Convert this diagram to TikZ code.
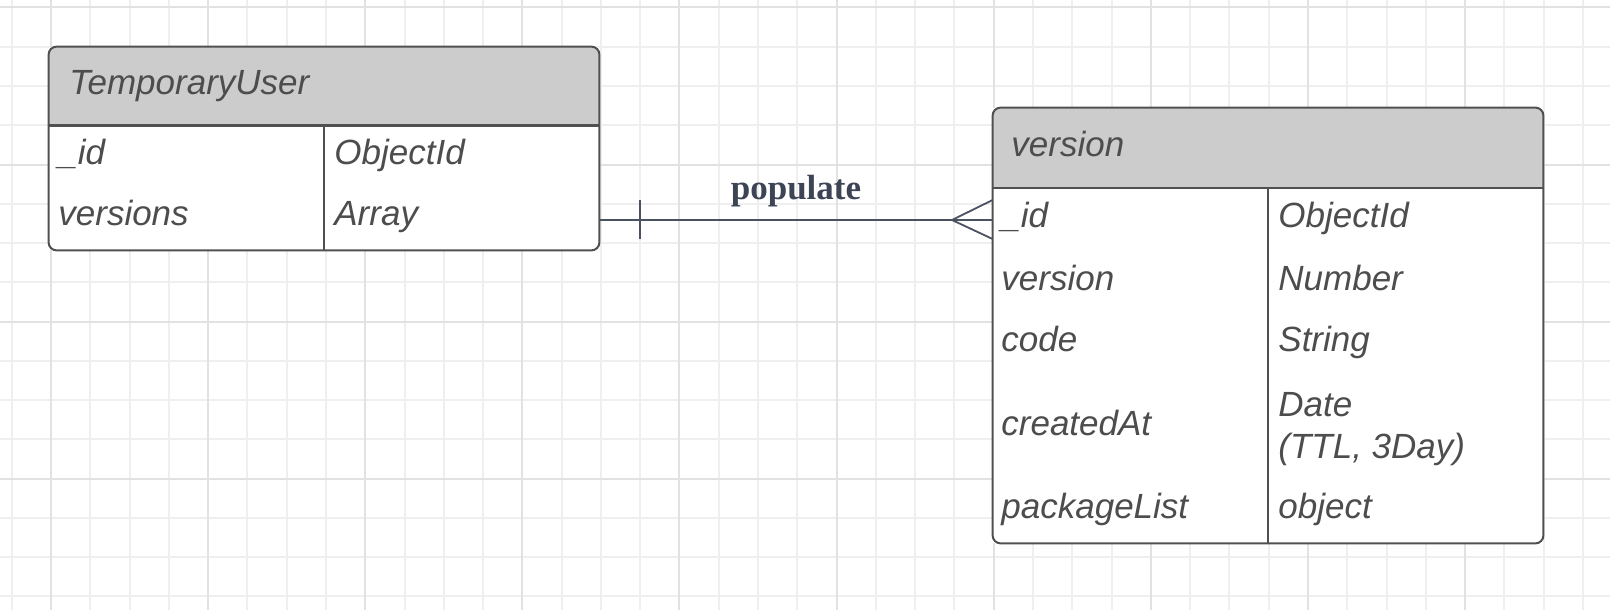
\documentclass[tikz,border=0pt]{standalone}
\usepackage{fontspec}
\setmainfont{Liberation Sans}
\newfontfamily\labelfont{Liberation Serif}
\definecolor{gridmin}{HTML}{EFEFEF}
\definecolor{gridmaj}{HTML}{E2E2E2}
\definecolor{border}{HTML}{505050}
\definecolor{hdr}{HTML}{CCCCCC}
\definecolor{txt}{HTML}{4D4D4D}
\definecolor{conn}{HTML}{4A5161}
\definecolor{lbl}{HTML}{3D4455}
\begin{document}
\begin{tikzpicture}[x=0.5pt,y=-0.5pt,
  gminor/.style={draw=gridmin, line width=1pt},
  gmajor/.style={draw=gridmaj, line width=1pt},
  tblbox/.style={fill=white, draw=none, rectangle, inner sep=0pt},
  tblline/.style={draw=border, line width=1pt},
  hdrfill/.style={fill=hdr},
  cell/.style={anchor=base west, inner sep=0pt, text=txt,
    font=\fontsize{17.5}{21}\selectfont\itshape, align=left},
  connline/.style={draw=conn, line width=0.9pt},
  rellabel/.style={anchor=base, inner sep=0pt, text=lbl,
    font=\labelfont\fontsize{17.5}{21}\selectfont\bfseries}
]
\useasboundingbox (0,0) rectangle (1610,610);
\fill[white] (0,0) rectangle (1610,610);
% grid
\foreach \k in {-1,...,39} {
  \draw[gminor] ({51+\k*39.28},0) -- ({51+\k*39.28},610);
}
\foreach \k in {0,...,15} {
  \draw[gminor] (0,{7.5+\k*39.25}) -- (1610,{7.5+\k*39.25});
}
\foreach \k in {0,...,9} {
  \draw[gmajor] ({51+\k*157.12},0) -- ({51+\k*157.12},610);
}
\foreach \k in {0,...,3} {
  \draw[gmajor] (0,{7.5+\k*157}) -- (1610,{7.5+\k*157});
}

% ---- TemporaryUser table
\node[tblbox, minimum width=275pt, minimum height=101.5pt] (tu) at (324,148.5) {};
\begin{scope}
  \clip[rounded corners=4pt] (tu.north west) rectangle (tu.south east);
  \fill[hdrfill] (tu.north west) rectangle (tu.east |- 0,125.5);
\end{scope}
\draw[tblline, rounded corners=4pt] (tu.north west) rectangle (tu.south east);
\draw[tblline] (tu.west |- 0,125.5) -- (tu.east |- 0,125.5);
\draw[tblline] (324,125.5) -- (tu.south);
\node[cell] (tuh) at (69,94.5) {TemporaryUser};
\node[cell] (tu1a) at (58,164) {\_id};
\node[cell] (tu1b) at (334,164) {ObjectId};
\node[cell] (tu2a) at (58,225.5) {versions};
\node[cell] (tu2b) at (334,225.5) {Array};

% ---- version table
\node[tblbox, minimum width=275pt, minimum height=217.5pt] (ver) at (1268,325.5) {};
\begin{scope}
  \clip[rounded corners=4pt] (ver.north west) rectangle (ver.south east);
  \fill[hdrfill] (ver.north west) rectangle (ver.east |- 0,188);
\end{scope}
\draw[tblline, rounded corners=4pt] (ver.north west) rectangle (ver.south east);
\draw[tblline] (ver.west |- 0,188) -- (ver.east |- 0,188);
\draw[tblline] (1268,188) -- (ver.south);
\node[cell] (verh) at (1011,156) {version};
\node[cell] (v1a) at (1001,227) {\_id};
\node[cell] (v1b) at (1278,227) {ObjectId};
\node[cell] (v2a) at (1001,290) {version};
\node[cell] (v2b) at (1278,290) {Number};
\node[cell] (v3a) at (1001,351) {code};
\node[cell] (v3b) at (1278,351) {String};
\node[cell] (v4a) at (1001,435) {createdAt};
\node[cell] (v4b) at (1278,458) {Date\\(TTL, 3Day)};
\node[cell] (v5a) at (1001,518) {packageList};
\node[cell] (v5b) at (1278,518) {object};

% ---- relation
\coordinate (ca) at (tu.east |- 0,220);
\coordinate (cb) at (ver.west |- 0,220);
\coordinate (bar) at (640,220);
\coordinate (foot) at (952,220);
\draw[connline] (ca) -- (cb);
\draw[connline] (bar |- 0,200) -- (bar |- 0,239);
\draw[connline] (cb |- 0,200) -- (foot) -- (cb |- 0,239);
\node[rellabel] (rel) at (796,199) {populate};
\end{tikzpicture}
\end{document}
